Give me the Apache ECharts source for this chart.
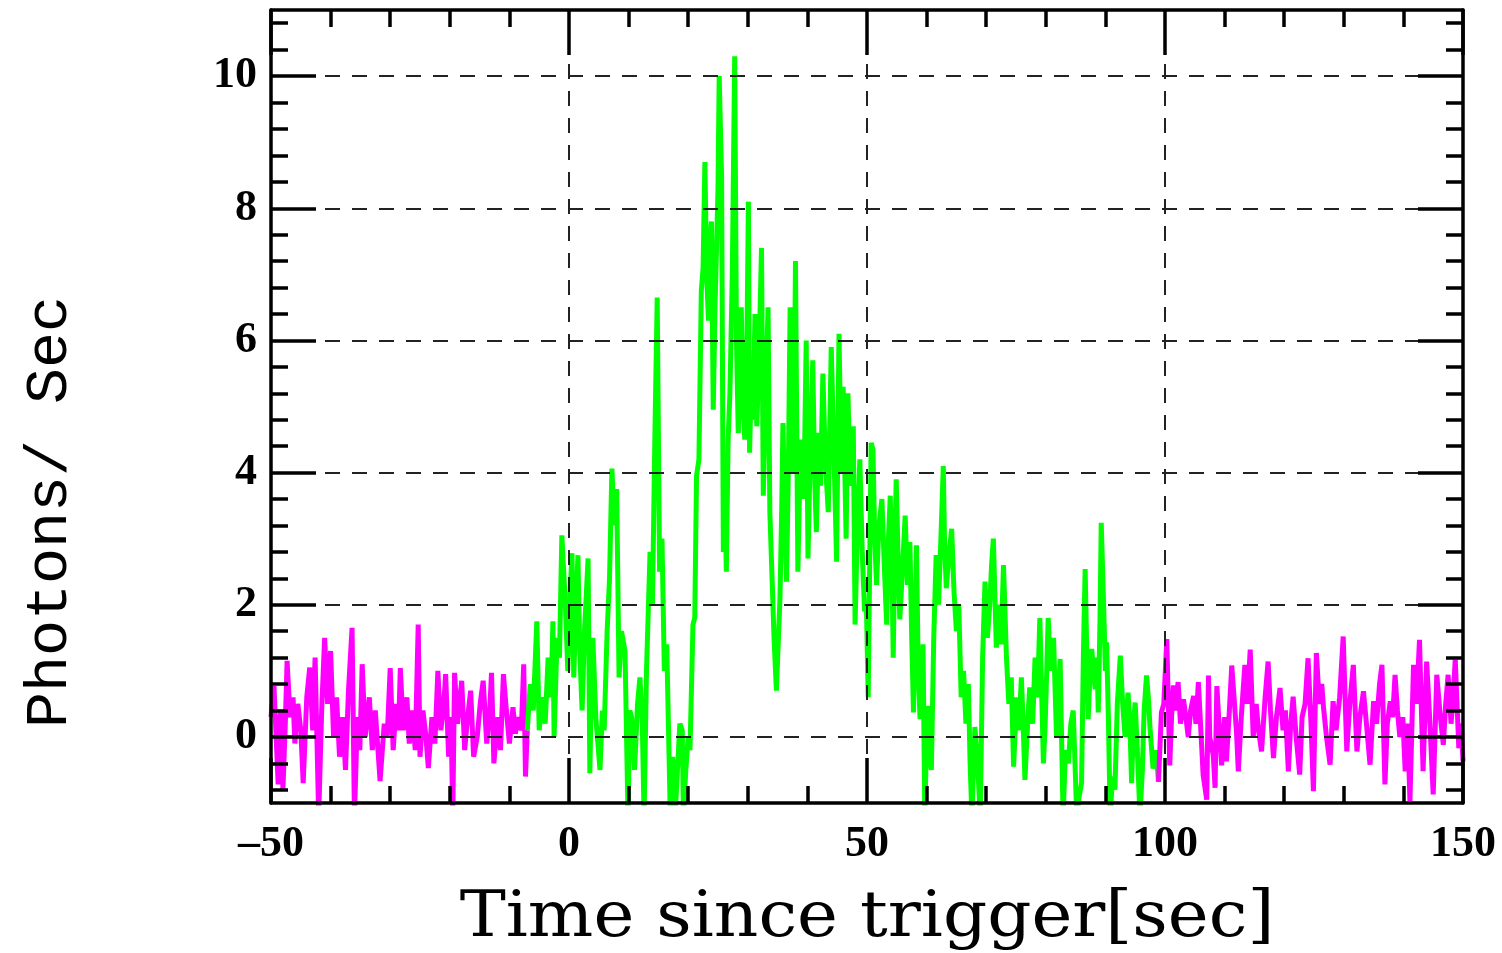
<!DOCTYPE html>
<html>
<head>
<meta charset="utf-8">
<script src="https://cdn.jsdelivr.net/npm/echarts@6.0.0/dist/echarts.min.js"></script>
<style>
  html, body { margin: 0; background: #fff; }
  #chart { width: 1502px; height: 953px; }
</style>
</head>
<body>
<div id="chart"></div>
<script>
// background before the burst (magenta)
const preTime = [-50.0, -49.5, -48.8, -48.4, -48.0, -47.6, -47.3, -46.8, -46.3, -46.0, -45.5, -45.0, -44.6, -44.0,
  -43.5, -43.0, -42.6, -42.0, -41.5, -41.0, -40.5, -40.0, -39.5, -39.0, -38.5, -38.0, -37.5, -37.0, -36.4, -36.0,
  -35.5, -35.1, -34.7, -34.2, -33.5, -33.0, -32.5, -31.7, -31.0, -30.5, -30.0, -29.5, -29.0, -28.6, -28.3, -27.8,
  -27.2, -26.8, -26.3, -25.8, -25.3, -25.0, -24.5, -24.0, -23.6, -23.0, -22.5, -22.0, -21.5, -21.0, -20.7, -20.2,
  -19.8, -19.5, -19.2, -18.7, -18.0, -17.5, -17.0, -16.5, -16.0, -15.4, -14.9, -14.4, -13.8, -13.3, -13.0, -12.6,
  -12.0, -11.5, -11.0, -10.6, -10.0, -9.4, -9.0, -8.5, -8.0, -7.6, -7.3, -7.0];
const preRate = [0.3, 0.77, -0.72, 0.4, -0.8, 0.2, 1.15, 0.3, 0.6, -0.1, 0.5, 0.1, -0.7, 0.6,
  1.05, 0.1, 1.2, -1.2, 0.4, 1.5, 0.5, 1.3, 0.0, 0.6, -0.3, 0.3, -0.5, 0.7, 1.65, -1.2,
  0.3, -0.2, 1.1, 0.0, 0.6, -0.2, 0.4, -0.67, 0.2, 0.0, 1.04, -0.2, 0.5, 0.1, 1.04, 0.1,
  0.6, -0.1, 0.4, -0.2, 1.7, -0.3, 0.4, 0.0, -0.47, 0.3, -0.1, 1.0, 0.1, 0.5, 0.95, -0.3,
  0.3, -1.2, 0.97, 0.2, 0.85, -0.2, 0.3, 0.7, -0.3, 0.0, 0.5, 0.85, -0.1, 0.4, 0.97, -0.4,
  0.3, -0.2, 0.95, 0.5, -0.1, 0.45, 0.05, 0.3, 0.1, 1.1, -0.6, 0.1];

// burst interval (green)
const burstTime = [-7.0, -6.5, -6.0, -5.4, -5.0, -4.5, -4.0, -3.5, -3.0, -2.7, -2.5, -2.0, -1.6, -1.2, -0.6, -0.2,
  0.2, 0.5, 0.8, 1.1, 1.5, 1.8, 2.2, 2.6, 3.2, 3.5, 3.8, 4.0, 4.5, 5.2, 5.6, 5.9, 6.4, 6.8, 7.2, 7.6, 8.0, 8.4,
  8.8, 9.4, 9.9, 10.2, 10.5, 11.0, 11.5, 11.9, 12.3, 12.6, 13.0, 13.6, 14.0, 14.4, 14.8, 15.2, 15.6, 16.0, 16.4,
  17.0, 17.4, 17.8, 18.2, 18.6, 19.0, 19.2, 19.6, 20.0, 20.3, 20.8, 21.1, 21.4, 21.8, 22.2, 22.5, 22.8, 23.1,
  23.4, 23.6, 23.9, 24.2, 24.5, 24.7, 25.0, 25.2, 25.6, 25.9, 26.1, 26.4, 26.7, 27.0, 27.4, 27.8, 28.1, 28.4,
  28.9, 29.2, 29.5, 29.8, 30.1, 30.3, 30.6, 30.9, 31.2, 31.5, 31.9, 32.3, 32.6, 33.0, 33.4, 33.7, 34.0, 34.4,
  34.8, 35.1, 35.4, 35.7, 35.9, 36.2, 36.5, 36.8, 37.1, 37.5, 37.8, 38.0, 38.4, 38.7, 39.0, 39.4, 39.8, 40.1,
  40.5, 40.9, 41.2, 41.5, 41.9, 42.2, 42.6, 43.0, 43.5, 44.0, 44.4, 44.9, 45.3, 45.7, 46.0, 46.5, 46.8, 47.2,
  47.7, 48.0, 48.4, 48.8, 49.2, 49.6, 49.9, 50.2, 50.5, 50.7, 51.0, 51.3, 51.6, 52.0, 52.5, 52.9, 53.3, 53.6,
  53.9, 54.2, 54.4, 54.7, 54.9, 55.2, 55.5, 56.0, 56.4, 56.8, 57.2, 57.5, 57.8, 58.0, 58.3, 58.6, 58.9, 59.2,
  59.4, 59.7, 60.0, 60.2, 60.5, 60.8, 61.2, 61.6, 62.0, 62.4, 62.8, 63.0, 63.3, 63.7, 64.2, 64.6, 65.0, 65.4,
  65.8, 66.2, 66.6, 67.0, 67.3, 67.6, 68.1, 68.5, 69.0, 69.4, 69.8, 70.2, 70.6, 70.9, 71.2, 71.7, 72.1, 72.5,
  72.9, 73.4, 73.8, 74.2, 74.6, 75.1, 75.5, 75.9, 76.2, 76.5, 77.0, 77.3, 77.8, 78.2, 78.6, 79.0, 79.6, 79.9,
  80.4, 80.8, 81.3, 81.8, 82.1, 82.4, 82.9, 83.3, 83.8, 84.2, 84.6, 85.2, 85.6, 86.0, 86.3, 86.6, 87.1, 87.4,
  87.7, 88.0, 88.3, 88.6, 88.8, 89.1, 89.3, 89.7, 90.0, 90.2, 90.5, 90.8, 91.2, 91.6, 92.0, 92.5, 92.9, 93.3,
  93.8, 94.1, 94.4, 94.7, 95.0, 95.4, 95.8, 96.2, 96.5, 96.9, 97.2, 97.5, 98.0, 98.5, 98.9];
const burstRate = [0.1, 0.8, 0.4, 1.75, 0.1, 0.6, 0.2, 1.2, 0.6, 1.75, 0.0, 1.5, 1.2, 3.05, 2.0, 1.0,
  2.2, 2.78, 0.9, 1.8, 2.75, 1.3, 0.4, 1.6, 2.7, -0.55, 1.0, 1.5, 0.3, -0.5, 0.4, 0.1, 1.6, 2.4, 4.06, 3.2, 3.75, 0.9,
  1.6, 1.3, -1.2, 0.4, 0.3, -0.5, 0.5, 0.9, 0.2, -1.2, 1.0, 2.8, 2.0, 4.5, 6.65, 2.5, 3.0, 1.0, 1.4,
  -1.2, -0.3, -1.2, -0.5, 0.2, 0.1, -1.2, -0.5, 0.0, -0.2, 1.7, 1.8, 3.95, 4.2, 6.75, 7.1, 8.7, 7.0,
  6.3, 7.5, 7.8, 4.95, 6.5, 7.2, 8.3, 10.0, 8.5, 2.8, 4.0, 2.5, 4.5, 5.2, 7.0, 10.3, 6.0, 4.6,
  6.5, 5.0, 4.5, 5.5, 8.1, 4.3, 5.5, 4.8, 6.4, 4.7, 5.8, 7.4, 3.65, 5.2, 6.5, 3.4, 2.6, 1.5,
  0.7, 1.4, 2.1, 3.5, 4.75, 3.2, 2.35, 4.0, 6.5, 4.0, 5.0, 7.2, 2.5, 3.8, 4.5, 3.6, 6.0, 2.7,
  4.4, 5.7, 4.0, 3.1, 4.6, 3.8, 5.5, 4.2, 3.4, 5.9, 4.5, 2.65, 6.1, 4.0, 5.3, 3.0, 5.2, 3.8,
  4.7, 1.7, 3.2, 4.2, 2.8, 1.9, 2.0, 0.6, 3.0, 4.45, 4.35, 3.0, 2.3, 3.2, 3.6, 2.6, 1.7, 3.0,
  3.65, 2.5, 1.2, 3.0, 3.9, 2.8, 1.78, 2.6, 3.35, 2.3, 2.95, 1.5, 0.37, 1.5, 2.9, 1.0, 0.27, 0.8,
  1.4, -1.2, 0.0, 0.47, -0.3, -0.5, 1.5, 2.75, 2.0, 3.0, 4.1, 3.0, 2.25, 2.7, 3.15, 2.2, 1.6, 2.0,
  0.6, 1.0, 0.2, 0.8, -0.4, -1.2, 0.15, -0.3, -1.2, 1.2, 2.35, 1.5, 2.0, 2.6, 3.0, 1.35, 2.0, 1.4,
  2.6, 1.2, 0.5, 0.9, -0.45, 0.6, 0.1, 0.9, 0.2, -0.65, 0.3, 0.75, 0.2, 1.2, 0.6, 1.8, -0.4, 0.2,
  1.8, 1.0, 1.5, 0.0, 0.6, 1.18, -1.2, -0.2, -0.4, 0.2, 0.4, -1.2, -0.9, -0.7, 1.2, 2.54, 0.27, 0.9,
  1.33, 1.0, 0.72, 1.2, 0.37, 1.8, 3.24, 2.0, 1.0, 1.43, 0.3, -1.2, -0.6, -0.8, 0.5, 1.23, 0.5, 0.0,
  0.67, 0.2, -0.7, 0.2, 0.52, -0.3, -1.2, -0.5, 0.4, 0.93, 0.6, 0.12, -0.48, -0.2, -0.68];

// background after the burst (magenta)
const postTime = [98.9, 99.4, 99.8, 100.3, 100.8, 101.1, 101.4, 101.8, 102.2, 102.6, 103.1, 103.5, 103.9, 104.3,
  104.8, 105.2, 105.6, 105.9, 106.4, 107.0, 107.3, 107.5, 108.1, 108.4, 108.7, 109.0, 109.5, 110.0, 110.3, 110.8,
  111.2, 111.5, 112.0, 112.3, 112.8, 113.4, 113.8, 114.3, 114.8, 115.3, 115.7, 116.2, 116.8, 117.3, 117.7, 118.2,
  118.7, 119.3, 119.8, 120.2, 120.7, 121.1, 121.5, 122.0, 122.6, 123.0, 123.5, 124.0, 124.5, 124.9, 125.4, 125.9,
  126.3, 126.6, 127.1, 127.7, 128.2, 128.7, 129.3, 129.9, 130.5, 131.0, 131.6, 132.2, 132.7, 133.3, 133.8, 134.4,
  135.0, 135.5, 136.0, 136.4, 136.9, 137.3, 137.8, 138.2, 138.6, 139.0, 139.4, 139.9, 140.3, 140.7, 141.1, 141.7,
  142.2, 142.7, 143.3, 143.9, 144.4, 145.0, 145.6, 146.2, 146.7, 147.1, 147.5, 148.0, 148.4, 148.7, 149.3, 149.7,
  150.0];
const postRate = [-0.68, 0.37, 0.5, 1.48, -0.43, 0.3, 0.78, 0.4, 0.83, 0.2, 0.57, 0.3, 0.0, 0.4,
  0.62, 0.2, 0.83, 0.84, -0.58, -0.95, 0.93, 0.0, -0.28, -0.77, 0.77, 0.3, -0.43, 0.3, -0.37, 0.4,
  1.08, 1.09, 0.07, -0.52, 0.3, 1.09, 0.5, 1.32, 0.0, 0.5, 0.1, -0.22, 0.6, 1.14, 0.4, -0.32,
  0.3, 0.74, 0.1, 0.4, -0.52, 0.2, 0.61, 0.0, -0.57, 0.3, 0.5, 1.19, 0.2, -0.82, 1.27, 0.5,
  0.8, 0.44, 0.0, -0.42, 0.54, 0.1, 0.6, 1.52, -0.22, 0.5, 1.09, -0.22, 0.3, 0.69, 0.2, -0.42,
  0.54, 0.2, 0.8, 1.09, -0.72, 0.2, 0.54, 0.3, 0.94, 0.4, 0.0, 0.3, -0.52, 0.2, -0.97, 1.09,
  0.5, 1.47, -0.52, 1.14, 0.3, -0.87, 0.94, 0.3, -0.12, 0.5, 0.94, 0.2, 0.7, 1.17, -0.17, 0.2,
  -0.37];

const yMajorTicks = [0, 2, 4, 6, 8, 10];
const yMinorTicks = [-0.8, -0.4, 0.4, 0.8, 1.2, 1.6, 2.4, 2.8, 3.2, 3.6, 4.4, 4.8, 5.2, 5.6,
  6.4, 6.8, 7.2, 7.6, 8.4, 8.8, 9.2, 9.6, 10.4, 10.8];

const chart = echarts.init(document.getElementById('chart'), null, { renderer: 'canvas' });

const black = { color: '#000', width: 3.5 };
const dashed = { color: '#222', width: 2, type: [15, 12] };
const tickFont = {
  color: '#000', fontFamily: '"Liberation Serif", serif', fontWeight: 'bold', fontSize: 44
};

const xAxisBase = {
  type: 'value', min: -50, max: 150, interval: 50, z: 5,
  axisLine: { show: true, onZero: false, lineStyle: black },
  axisTick: { show: true, inside: true, length: 45, lineStyle: black },
  minorTick: { show: true, splitNumber: 5, length: 17, lineStyle: black }
};

const yAxisBase = {
  type: 'value', min: -1, max: 11, z: 5,
  axisLine: { show: true, onZero: false, lineStyle: black }
};

const toPairs = (ts, vs) => ts.map((t, i) => [t, vs[i]]);

const lineSeries = (data, color) => ({
  type: 'line',
  data: data,
  symbol: 'none',
  clip: true,
  lineStyle: { color: color, width: 5 },
  itemStyle: { color: color },
  z: 2
});

const option = {
  animation: false,
  backgroundColor: '#fff',
  grid: { left: 271, right: 39, top: 10, bottom: 150 },
  xAxis: [
    Object.assign({}, xAxisBase, {
      position: 'bottom',
      axisLabel: Object.assign({
        show: true, margin: 20,
        formatter: (v) => String(v).replace('-', '\u2013')
      }, tickFont),
      splitLine: { show: true, lineStyle: dashed }
    }),
    Object.assign({}, xAxisBase, {
      position: 'top',
      axisLabel: { show: false },
      splitLine: { show: false }
    })
  ],
  yAxis: [
    Object.assign({}, yAxisBase, {
      position: 'left',
      axisTick: { show: true, inside: true, length: 45, customValues: yMajorTicks, lineStyle: black },
      axisLabel: Object.assign({ show: true, margin: 14, customValues: yMajorTicks }, tickFont),
      splitLine: { show: true, lineStyle: dashed }
    }),
    Object.assign({}, yAxisBase, {
      position: 'right',
      axisTick: { show: true, inside: true, length: 45, customValues: yMajorTicks, lineStyle: black },
      axisLabel: { show: false },
      splitLine: { show: false }
    }),
    Object.assign({}, yAxisBase, {
      position: 'left',
      axisLine: { show: false, onZero: false },
      axisTick: { show: true, inside: true, length: 17, customValues: yMinorTicks, lineStyle: black },
      axisLabel: { show: false },
      splitLine: { show: false }
    }),
    Object.assign({}, yAxisBase, {
      position: 'right',
      axisLine: { show: false, onZero: false },
      axisTick: { show: true, inside: true, length: 17, customValues: yMinorTicks, lineStyle: black },
      axisLabel: { show: false },
      splitLine: { show: false }
    })
  ],
  graphic: [
    {
      type: 'text', x: 867, y: 919, scaleX: 1.08,
      style: {
        text: 'Time since trigger[sec]', fill: '#000',
        font: '64px "DejaVu Serif", serif', align: 'center', verticalAlign: 'middle'
      }
    },
    {
      type: 'text', x: 50, y: 512, rotation: Math.PI / 2,
      style: {
        text: 'Photons/ Sec', fill: '#000',
        font: '60px "Liberation Mono", monospace', align: 'center', verticalAlign: 'middle'
      }
    }
  ],
  series: [
    lineSeries(toPairs(preTime, preRate), '#ff00ff'),
    lineSeries(toPairs(burstTime, burstRate), '#00ff00'),
    lineSeries(toPairs(postTime, postRate), '#ff00ff')
  ]
};

chart.setOption(option);
window.addEventListener('resize', chart.resize);
</script>
</body>
</html>
